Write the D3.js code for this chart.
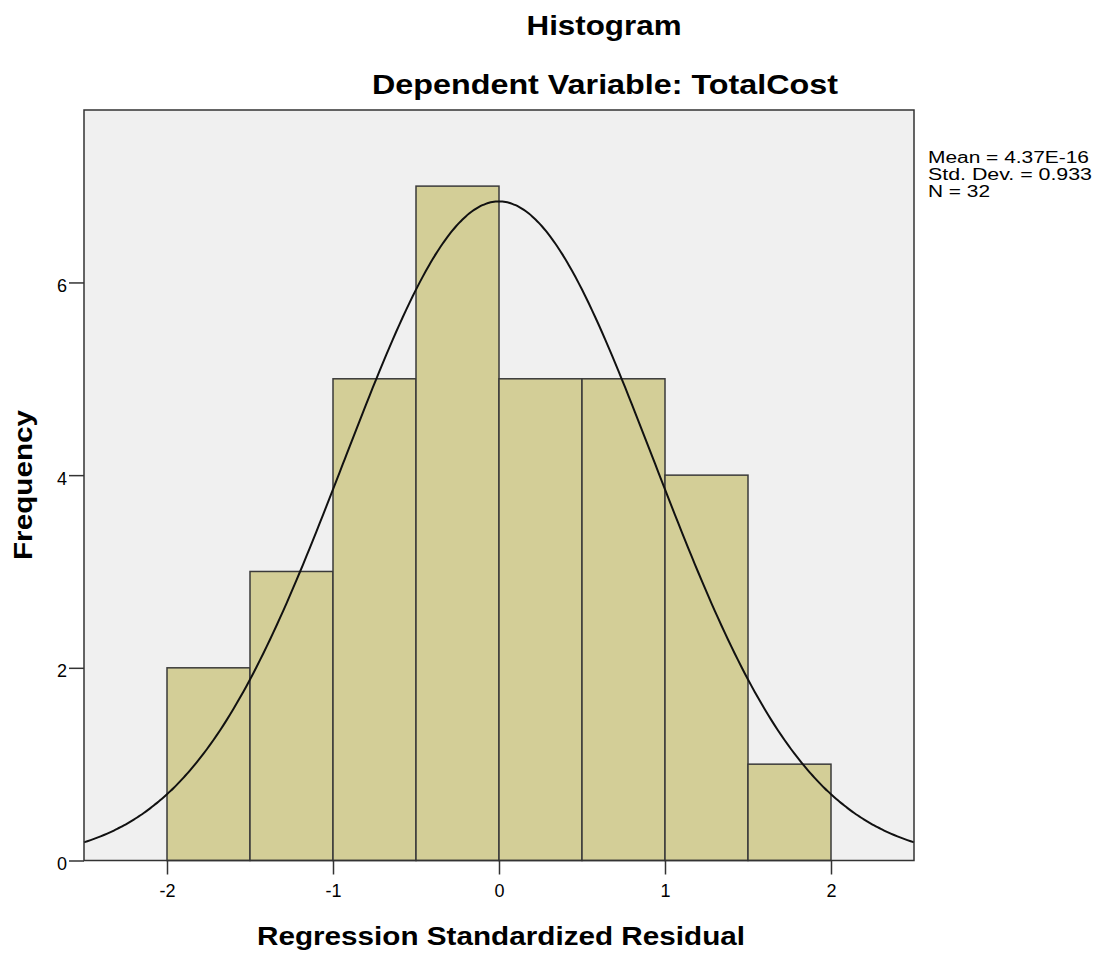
<!DOCTYPE html>
<html>
<head>
<meta charset="utf-8">
<script src="https://cdn.jsdelivr.net/npm/d3@7"></script>
<style>
  body { margin: 0; background: #fff; }
  text { font-family: Arial, "Liberation Sans", sans-serif; fill: #000; }
</style>
</head>
<body>
<div id="chart"></div>
<script>
//data
const binStarts = [-2, -1.5, -1, -0.5, 0, 0.5, 1, 1.5];
const binWidth = 0.5;
const counts = [2, 3, 5, 7, 5, 5, 4, 1];
const xTicks = [-2, -1, 0, 1, 2];
const yTicks = [0, 2, 4, 6];
const statLines = ["Mean = 4.37E-16", "Std. Dev. = 0.933", "N = 32"];
const mean = 4.37e-16;
const sd = 0.933;
const n = 32;

const width = 1107, height = 953;
const plot = { left: 84, right: 914, top: 110, bottom: 860.5 };

const svg = d3.select("#chart").append("svg")
  .attr("width", width)
  .attr("height", height);

const x = d3.scaleLinear().domain([-2.5, 2.5]).range([plot.left, plot.right]);
const y = d3.scaleLinear().domain([0, 7.79]).range([plot.bottom, plot.top]);

//plot background
svg.append("rect")
  .attr("x", plot.left).attr("y", plot.top)
  .attr("width", plot.right - plot.left)
  .attr("height", plot.bottom - plot.top)
  .attr("fill", "#f0f0f0");

//bars
svg.selectAll("rect.bar")
  .data(binStarts)
  .enter().append("rect")
  .attr("class", "bar")
  .attr("x", d => x(d))
  .attr("y", (d, i) => y(counts[i]))
  .attr("width", d => x(d + binWidth) - x(d))
  .attr("height", (d, i) => y(0) - y(counts[i]))
  .attr("fill", "#d3ce97")
  .attr("stroke", "#3a3a3a")
  .attr("stroke-width", 1.5);

//normal curve scaled to the counts
const pdf = v => Math.exp(-0.5 * Math.pow((v - mean) / sd, 2)) / (sd * Math.sqrt(2 * Math.PI));
const curvePts = d3.range(-2.5, 2.5001, 0.02).map(v => [v, n * binWidth * pdf(v)]);
svg.append("path")
  .datum(curvePts)
  .attr("fill", "none")
  .attr("stroke", "#111")
  .attr("stroke-width", 2)
  .attr("d", d3.line().x(d => x(d[0])).y(d => y(d[1])).curve(d3.curveBasis));

//frame
svg.append("rect")
  .attr("x", plot.left).attr("y", plot.top)
  .attr("width", plot.right - plot.left)
  .attr("height", plot.bottom - plot.top)
  .attr("fill", "none")
  .attr("stroke", "#333")
  .attr("stroke-width", 1.5);

//axes, plain hyphen for negatives like the original
const xAxis = d3.axisBottom(x).tickValues(xTicks).tickSize(14).tickFormat(d => String(d));
const yAxis = d3.axisLeft(y).tickValues(yTicks).tickSize(15).tickPadding(2).tickFormat(d => String(d));

const gx = svg.append("g").attr("transform", `translate(0,${plot.bottom})`).call(xAxis);
const gy = svg.append("g").attr("transform", `translate(${plot.left},0)`).call(yAxis);
[gx, gy].forEach(g => {
  g.select(".domain").remove();
  g.selectAll(".tick line").attr("stroke", "#333").attr("stroke-width", 1.5);
  g.selectAll(".tick text")
    .style("font-family", "Arial, 'Liberation Sans', sans-serif")
    .style("font-size", "18px")
    .attr("fill", "#000");
});
gx.selectAll(".tick text").attr("y", 36).attr("dy", 0);
gy.selectAll(".tick text").attr("dy", 0).attr("y", 9);

//titles, slightly wide glyphs like the original
const addText = (txt, px, py, size, len, bold, rotate) => {
  svg.append("text")
    .attr("x", px).attr("y", py)
    .attr("text-anchor", "middle")
    .attr("transform", rotate ? `rotate(-90,${px},${py})` : null)
    .attr("textLength", len)
    .attr("lengthAdjust", "spacingAndGlyphs")
    .style("font-size", size + "px")
    .style("font-weight", bold ? "bold" : "normal")
    .text(txt);
};
addText("Histogram", 604, 35, 28, 155, true);
addText("Dependent Variable: TotalCost", 605, 94, 28, 466, true);
addText("Regression Standardized Residual", 501, 945, 26, 488, true);
addText("Frequency", 32, 485, 26, 150, true, true);

//stats box
const statWidths = [161, 164, 62];
svg.selectAll("text.stat")
  .data(statLines)
  .enter().append("text")
  .attr("class", "stat")
  .attr("x", 928)
  .attr("y", (d, i) => 163 + i * 17)
  .attr("textLength", (d, i) => statWidths[i])
  .attr("lengthAdjust", "spacingAndGlyphs")
  .style("font-size", "16px")
  .text(d => d);
</script>
</body>
</html>
